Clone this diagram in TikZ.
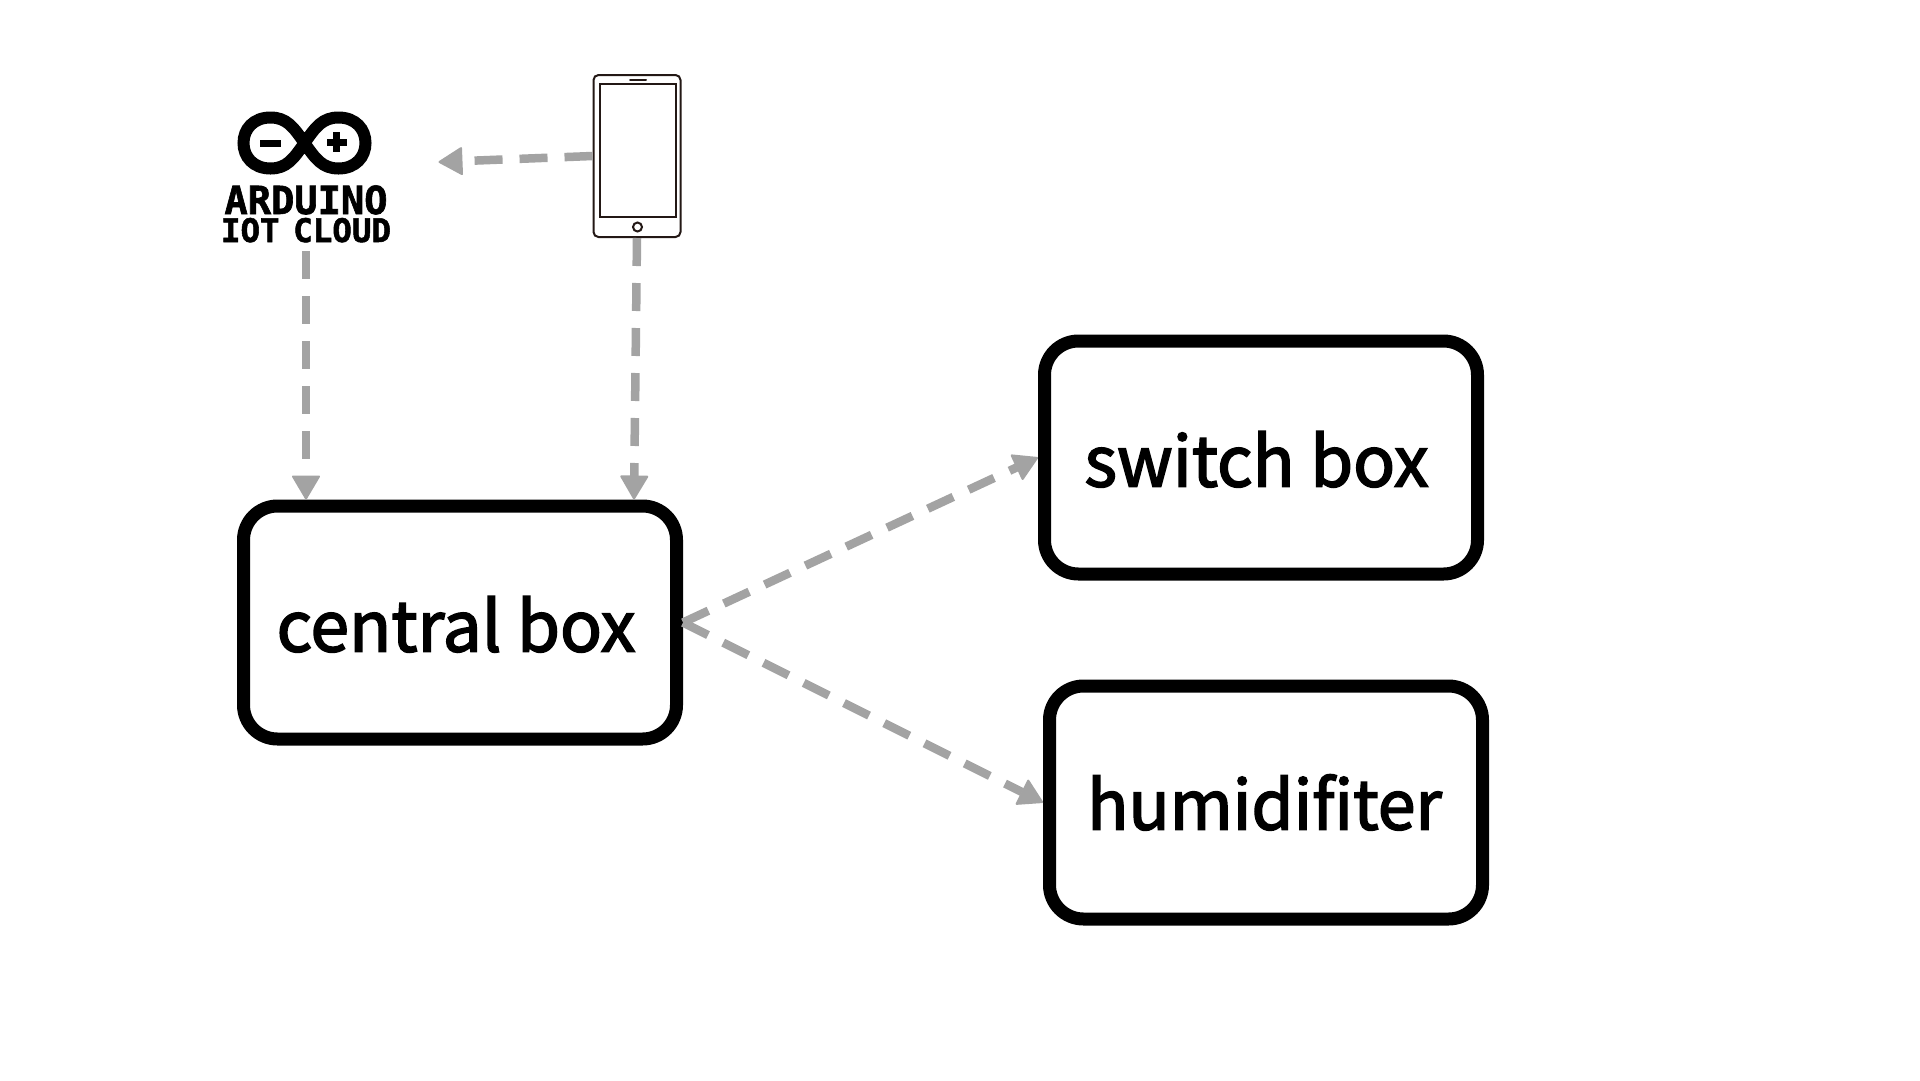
\documentclass[tikz,border=0pt]{standalone}
\usepackage{fontspec}
\newfontfamily\labelfont{Noto Sans CJK SC}[RawFeature={embolden=2.4}]
\newfontfamily\logofont{DejaVu Sans Mono Bold}[RawFeature={embolden=1.6}]
\usetikzlibrary{arrows.meta}
\definecolor{arrowgray}{HTML}{A3A3A3}
\definecolor{phoneink}{HTML}{231815}
\tikzset{
  box/.style={draw=black,line width=13pt,rounded corners=34pt,fill=white,minimum width=433pt,minimum height=233pt,inner sep=0pt},
  boxlabel/.style={anchor=base,inner sep=0pt,font=\labelfont\fontsize{69.5}{70}\selectfont},
  link/.style={draw=arrowgray,line width=8.5pt,dash pattern=on 28pt off 17pt,
    -{Triangle[length=25pt,width=29pt,round,line width=2pt]}},
  logoink/.style={draw=black,line width=12pt},
  phoneline/.style={draw=phoneink,line width=2pt},
}
\begin{document}
\begin{tikzpicture}[x=1pt,y=-1pt]
\useasboundingbox (0,0) rectangle (1920,1080);
\fill[white] (0,0) rectangle (1920,1080);

% boxes
\node[box] (central) at (460,622.5) {};
\node[box] (switch) at (1261,457.5) {};
\node[box] (humid) at (1266,802.5) {};
\node[boxlabel] (centrallabel) at (456,651.5) {central box};
\node[boxlabel] (switchlabel) at (1256.5,486.5) {switch box};
\node[boxlabel,font=\labelfont\fontsize{68}{70}\selectfont] (humidlabel) at (1264.5,829.5) {humidifiter};

% phone
\node[phoneline,rounded corners=5pt,minimum width=87pt,minimum height=162pt,inner sep=0pt,outer sep=1pt] (phone) at (637,156) {};
\node[phoneline,minimum width=76pt,minimum height=133pt,inner sep=0pt] (screen) at (637.5,150.5) {};
\node[phoneline,circle,minimum size=9pt,inner sep=0pt] (homebtn) at (637.5,227) {};
\draw[phoneline,line cap=round] (630,80) -- (646,80);

% arduino logo
\begin{scope}[xshift=-1.5pt]
\draw[logoink] (306,143) .. controls (295,127) and (288,117.5) .. (272,117.5)
  .. controls (255,117.5) and (245,129) .. (245,143)
  .. controls (245,157) and (255,168.5) .. (272,168.5)
  .. controls (288,168.5) and (295,159) .. (306,143)
  .. controls (317,127) and (324,117.5) .. (340,117.5)
  .. controls (357,117.5) and (367,129) .. (367,143)
  .. controls (367,157) and (357,168.5) .. (340,168.5)
  .. controls (324,168.5) and (317,159) .. (306,143) -- cycle;
\fill (261.5,139.5) rectangle (282,146.5);
\fill (328,138.5) rectangle (348,145.5);
\fill (334.5,132) rectangle (341.5,152);
\end{scope}
\node[anchor=base,inner sep=0pt,font=\logofont\fontsize{38.7}{38.7}\selectfont] (ardu) at (306,214) {ARDUINO};
\node[anchor=base,inner sep=0pt,font=\logofont\fontsize{32.5}{32.5}\selectfont] (iot) at (306,242) {IOT\hspace{-6pt} CLOUD};

% connectors
\coordinate (cloudin) at (438.5,162);
\coordinate (cloudout) at ([yshift=-9pt]iot.base);
\draw[link] (phone.west) -- (cloudin);
\draw[link] (cloudout) -- (cloudout |- central.north);
\draw[link] (phone.south) -- ([xshift=174pt]central.north);
\draw[link] (central.east) -- (switch.west);
\draw[link] (central.east) -- (humid.west);
\end{tikzpicture}
\end{document}
